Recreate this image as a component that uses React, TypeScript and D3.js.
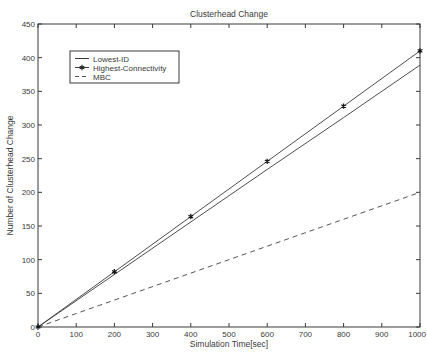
import React, { useEffect, useRef } from 'react';
import * as d3 from 'd3';

const times = [0, 200, 400, 600, 800, 1000];
const lowestId = [0, 78, 156, 234, 311, 389];
const highestConn = [0, 82, 164, 246, 328, 410];
const mbc = [0, 40, 80, 120, 160, 200];
const xTicks = [0, 100, 200, 300, 400, 500, 600, 700, 800, 900, 1000];
const yTicks = [0, 50, 100, 150, 200, 250, 300, 350, 400, 450];

const App = () => {
  const svgRef = useRef<SVGSVGElement>(null);

  useEffect(() => {
    const W = 427, H = 353;
    const margin = { top: 24, right: 7, bottom: 26, left: 38 };
    const width = W - margin.left - margin.right;
    const height = H - margin.top - margin.bottom;
    const ink = '#3a3a3a';
    const font = '"Liberation Sans", Arial, sans-serif';

    const root = d3.select(svgRef.current);
    root.selectAll('*').remove();
    const svg = root.append('g').attr('transform', `translate(${margin.left},${margin.top})`);

    const x = d3.scaleLinear().domain([0, 1000]).range([0, width]);
    const y = d3.scaleLinear().domain([0, 450]).range([height, 0]);

    // frame
    svg.append('rect')
      .attr('width', width).attr('height', height)
      .attr('fill', 'none').attr('stroke', ink).attr('stroke-width', 1);

    // ticks inside on all sides
    const tl = 4;
    xTicks.forEach(t => {
      svg.append('line').attr('x1', x(t)).attr('x2', x(t)).attr('y1', height).attr('y2', height - tl).attr('stroke', ink);
      svg.append('line').attr('x1', x(t)).attr('x2', x(t)).attr('y1', 0).attr('y2', tl).attr('stroke', ink);
      const last = t === 1000;
      svg.append('text').text(t)
        .attr('x', last ? W - margin.left - 1 : x(t)).attr('y', height + 10)
        .attr('text-anchor', last ? 'end' : 'middle').attr('font-size', 8).attr('font-family', font).attr('fill', ink);
    });
    yTicks.forEach(t => {
      svg.append('line').attr('x1', 0).attr('x2', tl).attr('y1', y(t)).attr('y2', y(t)).attr('stroke', ink);
      svg.append('line').attr('x1', width).attr('x2', width - tl).attr('y1', y(t)).attr('y2', y(t)).attr('stroke', ink);
      svg.append('text').text(t)
        .attr('x', -3).attr('y', y(t) + 3)
        .attr('text-anchor', 'end').attr('font-size', 8).attr('font-family', font).attr('fill', ink);
    });

    const line = d3.line<number>().x((_, i) => x(times[i])).y(d => y(d));

    svg.append('path').datum(lowestId).attr('d', line)
      .attr('fill', 'none').attr('stroke', ink).attr('stroke-width', 0.9);
    svg.append('path').datum(highestConn).attr('d', line)
      .attr('fill', 'none').attr('stroke', ink).attr('stroke-width', 0.9);
    svg.append('path').datum(mbc).attr('d', line)
      .attr('fill', 'none').attr('stroke', '#555').attr('stroke-width', 1).attr('stroke-dasharray', '5,4');

    const star = d3.symbol().type(d3.symbolAsterisk).size(20);
    svg.selectAll('.mk').data(highestConn).enter().append('path')
      .attr('d', star)
      .attr('transform', (d, i) => `translate(${x(times[i])},${y(d)})`)
      .attr('fill', 'none').attr('stroke', '#111').attr('stroke-width', 1.2);

    // title and labels
    root.append('text').text('Clusterhead Change')
      .attr('x', margin.left + width / 2).attr('y', 17)
      .attr('text-anchor', 'middle').attr('font-size', 8.5).attr('font-family', font).attr('fill', ink);
    root.append('text').text('Simulation Time[sec]')
      .attr('x', margin.left + width / 2).attr('y', 347)
      .attr('text-anchor', 'middle').attr('font-size', 8.5).attr('font-family', font).attr('fill', ink);
    root.append('text').text('Number of Clusterhead Change')
      .attr('transform', `translate(13,${margin.top + height / 2}) rotate(-90)`)
      .attr('text-anchor', 'middle').attr('font-size', 8.5).attr('font-family', font).attr('fill', ink);

    // legend
    const lg = root.append('g').attr('transform', 'translate(70,51)');
    lg.append('rect').attr('width', 109).attr('height', 32)
      .attr('fill', 'white').attr('stroke', ink).attr('stroke-width', 1);
    const items = [
      { name: 'Lowest-ID', dash: null, mark: false },
      { name: 'Highest-Connectivity', dash: null, mark: true },
      { name: 'MBC', dash: '4,3', mark: false },
    ];
    items.forEach((it, i) => {
      const yy = 7.5 + i * 9;
      lg.append('line').attr('x1', 5).attr('x2', 19).attr('y1', yy).attr('y2', yy)
        .attr('stroke', it.dash ? '#555' : ink).attr('stroke-dasharray', it.dash);
      if (it.mark) {
        lg.append('path').attr('d', star).attr('transform', `translate(12,${yy})`)
          .attr('fill', 'none').attr('stroke', '#111').attr('stroke-width', 1.1);
      }
      lg.append('text').text(it.name).attr('x', 23).attr('y', yy + 3)
        .attr('font-size', 8).attr('font-family', font).attr('fill', ink);
    });
  }, []);

  return (
    <svg ref={svgRef} width={427} height={353}
      style={{ position: 'absolute', left: 0, top: 0, background: 'white' }} />
  );
};

export default App;
